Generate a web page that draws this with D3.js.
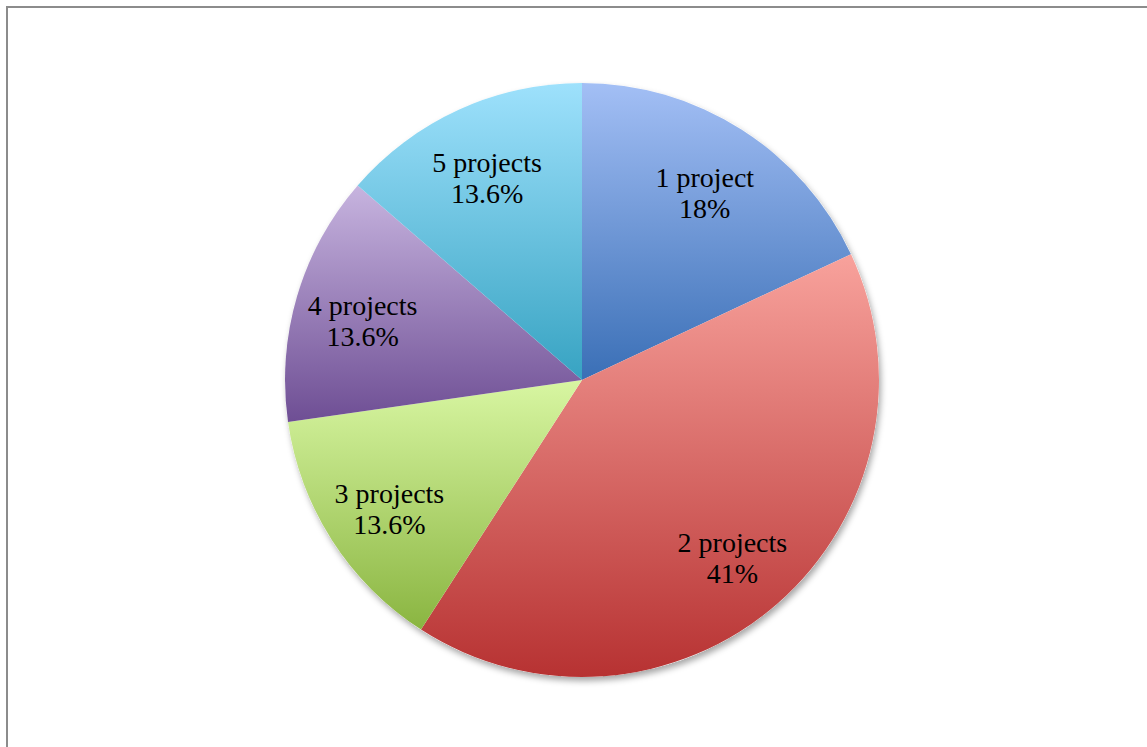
<!DOCTYPE html>
<html>
<head>
<meta charset="utf-8">
<script src="https://cdn.jsdelivr.net/npm/d3@7"></script>
<style>
  body { margin: 0; background: #fff; }
  svg { display: block; }
</style>
</head>
<body>
<div class="chart"></div>
<script>
// chart data
var categories = ["1 project", "2 projects", "3 projects", "4 projects", "5 projects"];
var shares = [18, 41, 13.6, 13.6, 13.6];
var pctLabels = ["18%", "41%", "13.6%", "13.6%", "13.6%"];

// top / bottom colours for each slice gradient
var topColors = ["#a3bff5", "#f8a29c", "#d8f6a2", "#c7b4df", "#9ee1fc"];
var bottomColors = ["#3a6fb6", "#b73232", "#8ab541", "#6e4e94", "#37a3c2"];

var svgWidth = 1147;
var svgHeight = 747;
var cx = 582;
var cy = 380;
var radius = 297;

var svg = d3.select(".chart")
  .append("svg")
  .attr("width", svgWidth)
  .attr("height", svgHeight);

// frame (left + top edges visible)
svg.append("rect")
  .attr("x", 7)
  .attr("y", 7)
  .attr("width", svgWidth + 20)
  .attr("height", svgHeight + 20)
  .attr("fill", "none")
  .attr("stroke", "#8c8c8c")
  .attr("stroke-width", 2);

var defs = svg.append("defs");

var shadow = defs.append("filter")
  .attr("id", "shadow")
  .attr("x", "-10%").attr("y", "-10%")
  .attr("width", "120%").attr("height", "120%");
shadow.append("feDropShadow")
  .attr("dx", 2)
  .attr("dy", 4)
  .attr("stdDeviation", 3)
  .attr("flood-color", "#000")
  .attr("flood-opacity", 0.35);

categories.forEach(function(c, i) {
  var g = defs.append("linearGradient")
    .attr("id", "grad" + i)
    .attr("x1", 0).attr("y1", 0)
    .attr("x2", 0).attr("y2", 1);
  g.append("stop").attr("offset", "0%").attr("stop-color", topColors[i]);
  g.append("stop").attr("offset", "100%").attr("stop-color", bottomColors[i]);
});

var data = categories.map(function(c, i) {
  return { name: c, value: shares[i], pct: pctLabels[i], index: i };
});

var pie = d3.pie()
  .sort(null)
  .value(d => d.value);

var arc = d3.arc()
  .innerRadius(0)
  .outerRadius(radius);

var labelArc = d3.arc()
  .innerRadius(radius * 0.77)
  .outerRadius(radius * 0.77);

var chartGroup = svg.append("g")
  .attr("transform", `translate(${cx}, ${cy})`);

// shadow under the whole pie
chartGroup.append("circle")
  .attr("r", radius)
  .attr("fill", "#fff")
  .attr("filter", "url(#shadow)");

var arcs = pie(data);

chartGroup.selectAll("path.slice")
  .data(arcs)
  .enter()
  .append("path")
  .attr("class", "slice")
  .attr("d", arc)
  .attr("fill", d => `url(#grad${d.data.index})`);

var labels = chartGroup.selectAll("text.label")
  .data(arcs)
  .enter()
  .append("text")
  .attr("class", "label")
  .attr("transform", d => `translate(${labelArc.centroid(d)})`)
  .attr("text-anchor", "middle")
  .attr("font-family", "Liberation Serif, serif")
  .attr("font-size", "28px")
  .attr("fill", "#000");

labels.append("tspan")
  .attr("x", 0)
  .attr("dy", 0)
  .text(d => d.data.name);

labels.append("tspan")
  .attr("x", 0)
  .attr("dy", "1.1em")
  .text(d => d.data.pct);
</script>
</body>
</html>
